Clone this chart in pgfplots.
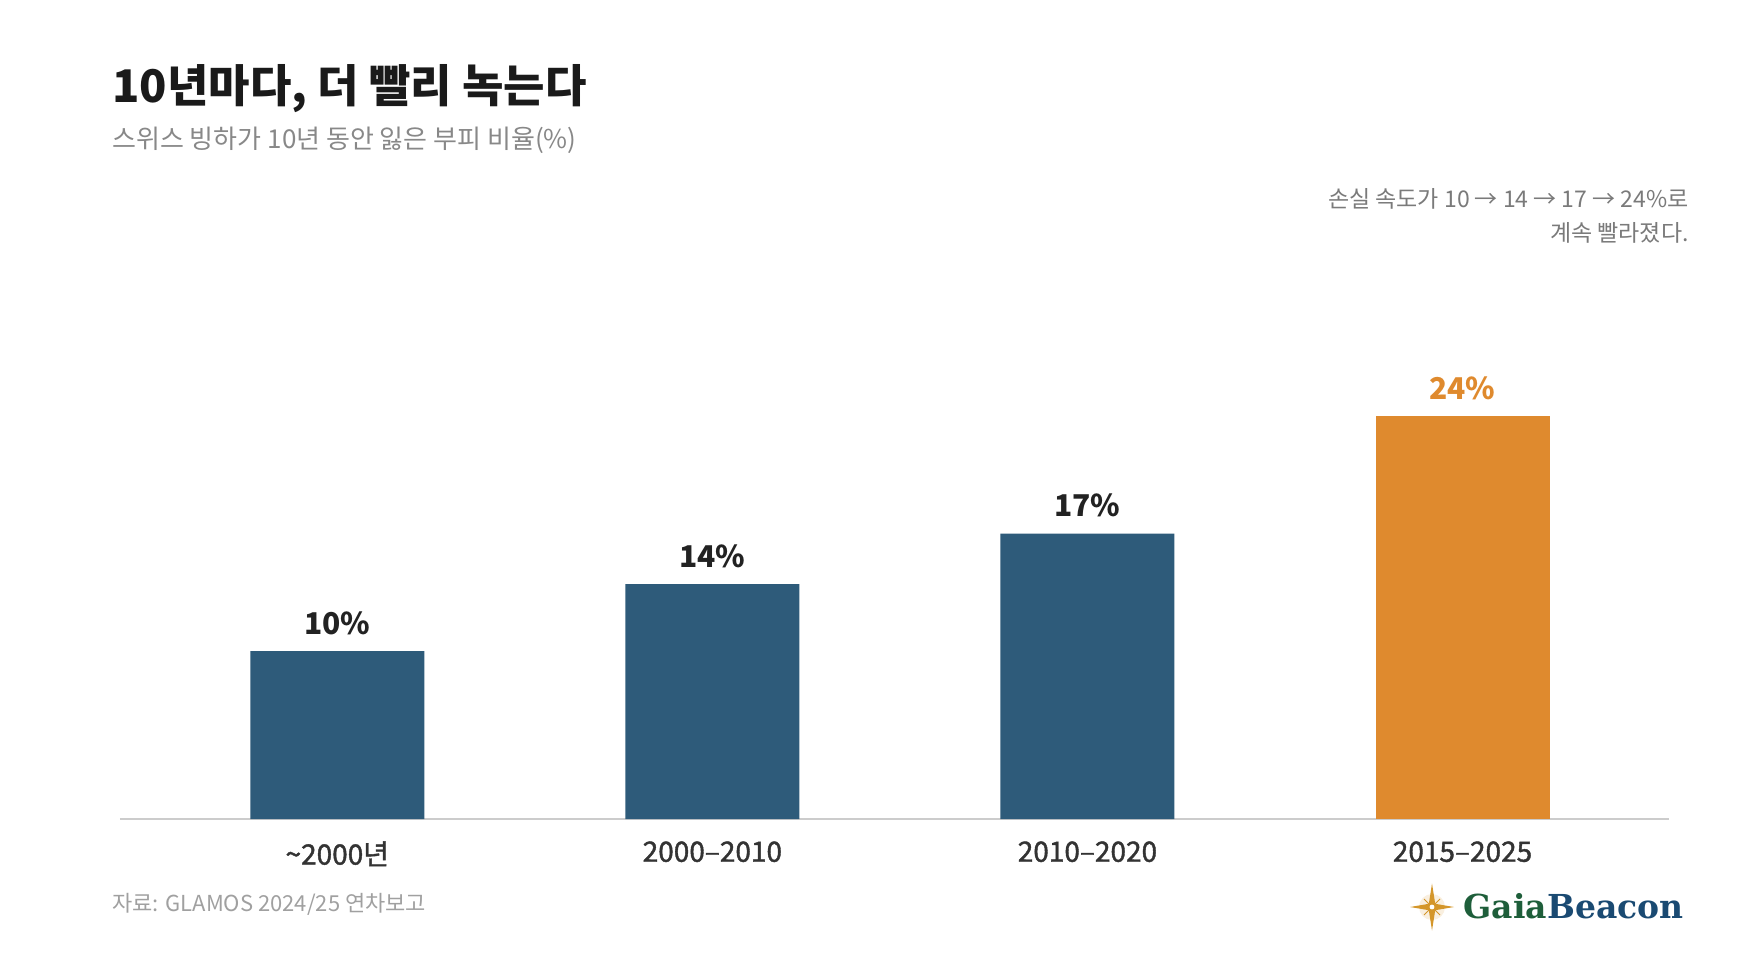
\documentclass[border=0pt]{standalone}
\usepackage{pgfplots}
\pgfplotsset{compat=1.18}
\usepackage{fontspec}
\setmainfont{Noto Sans CJK KR}
\newfontfamily\medfont{Noto Sans CJK KR}[FakeBold=1.4]
\newfontfamily\logofont{DejaVu Serif}
\definecolor{barblue}{HTML}{2E5B7A}
\definecolor{barorange}{HTML}{DF8A2E}
\definecolor{titlecol}{HTML}{1A1A1A}
\definecolor{subcol}{HTML}{888888}
\definecolor{notecol}{HTML}{7A7A7A}
\definecolor{srccol}{HTML}{A0A0A0}
\definecolor{tickcol}{HTML}{333333}
\definecolor{valcol}{HTML}{222222}
\definecolor{axcol}{HTML}{CCCCCC}
\definecolor{logogreen}{HTML}{1E5E3A}
\definecolor{logoblue}{HTML}{1A4A72}
\definecolor{stargold}{HTML}{D4962A}
\begin{document}
\begin{tikzpicture}[x=1pt,y=1pt]
\path[use as bounding box] (0,0) rectangle (880,480);
% titles
\node[anchor=base west, inner sep=0pt, text=titlecol, font=\fontsize{22.5}{27}\selectfont\bfseries] at (56,428.5) {10년마다, 더 빨리 녹는다};
\node[anchor=base west, inner sep=0pt, text=subcol, font=\fontsize{13}{16}\selectfont] at (56,405.5) {스위스 빙하가 10년 동안 잃은 부피 비율(\%)};
% annotation
\node[anchor=base east, inner sep=0pt, text=notecol, font=\fontsize{11.5}{14}\selectfont] at (844.5,376) {손실 속도가 10 → 14 → 17 → 24\%로};
\node[anchor=base east, inner sep=0pt, text=notecol, font=\fontsize{11.5}{14}\selectfont] at (844.5,359) {계속 빨라졌다.};
\begin{axis}[
  at={(168.65pt,70.5pt)}, anchor=origin,
  scale only axis, width=774.5pt, height=251.7pt,
  xmin=-0.58, xmax=3.55, ymin=0, ymax=30,
  axis x line*=bottom, axis y line=none,
  x axis line style={draw=axcol, line width=1pt, -},
  xtick={0,1,2,3},
  xticklabels={{\textasciitilde2000년},{2000–2010},{2010–2020},{2015–2025}},
  major tick length=0pt,
  xticklabel style={font=\medfont\fontsize{14}{17}\selectfont, text=tickcol, inner sep=0pt, anchor=north, yshift=-11pt},
  ymajorticks=false,
  clip=false,
  /pgf/number format/assume math mode=true,
  ybar, bar width=87pt,
  nodes near coords={\pgfmathprintnumber{\pgfplotspointmeta}\%},
  nodes near coords style={font=\fontsize{15}{18}\selectfont\bfseries, inner sep=0pt, anchor=south, yshift=8pt},
]
\addplot[fill=barblue, draw=none, bar shift=0pt, nodes near coords style={text=valcol}] coordinates {(0,10) (1,14) (2,17)};
\addplot[fill=barorange, draw=none, bar shift=0pt, nodes near coords style={text=barorange}] coordinates {(3,24)};
\end{axis}
% source
\node[anchor=base west, inner sep=0pt, text=srccol, font=\fontsize{11}{13}\selectfont] at (56,24.5) {자료: GLAMOS 2024/25 연차보고};
% logo
\fill[stargold!15] (716,26.5) circle (6.5);
\fill[stargold] (716,38.25) -- (717.6,28.1) -- (727,26.5) -- (717.6,24.9) -- (716,14.75) -- (714.4,24.9) -- (705,26.5) -- (714.4,28.1) -- cycle;
\draw[stargold, line width=0.5pt] (712,30.5) -- (720,22.5) (712,22.5) -- (720,30.5);
\fill[white] (716,26.5) circle (1.2);
\node[anchor=base east, inner sep=0pt, font=\logofont\fontsize{16.5}{20}\selectfont\bfseries] at (842,21) {\textcolor{logogreen}{Gaia}\textcolor{logoblue}{Beacon}};
\end{tikzpicture}
\end{document}
